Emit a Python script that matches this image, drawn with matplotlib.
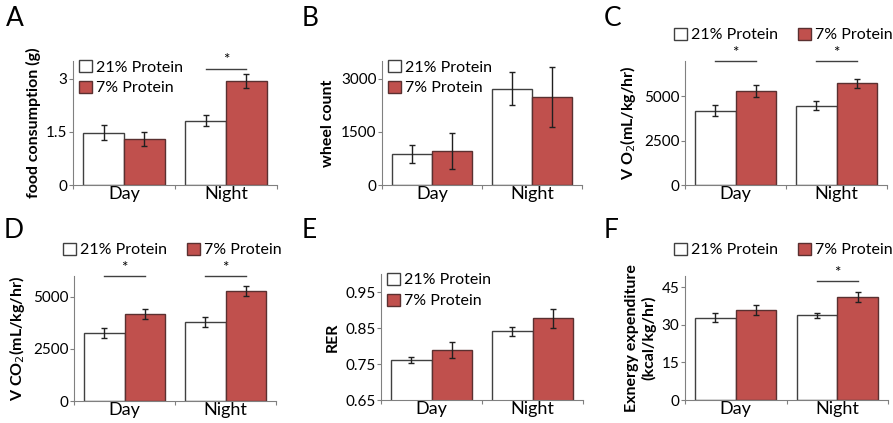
import matplotlib.pyplot as plt
import numpy as np

plt.rcParams['font.family'] = ['Lato', 'DejaVu Sans']

groups = ["Day", "Night"]
series = ["21% Protein", "7% Protein"]

# panel A: food consumption (g)
food_21 = [1.48, 1.82]
food_21_err = [0.20, 0.15]
food_7 = [1.29, 2.94]
food_7_err = [0.20, 0.19]

# panel B: wheel count
wheel_21 = [880, 2720]
wheel_21_err = [250, 470]
wheel_7 = [960, 2490]
wheel_7_err = [515, 845]

# panel C: VO2
vo2_21 = [4200, 4480]
vo2_21_err = [320, 250]
vo2_7 = [5310, 5740]
vo2_7_err = [320, 250]

# panel D: VCO2
vco2_21 = [3270, 3780]
vco2_21_err = [240, 250]
vco2_7 = [4190, 5260]
vco2_7_err = [230, 240]

# panel E: RER
rer_21 = [0.762, 0.841]
rer_21_err = [0.008, 0.0125]
rer_7 = [0.789, 0.877]
rer_7_err = [0.022, 0.027]

# panel F: energy expenditure
ee_21 = [32.9, 33.8]
ee_21_err = [1.85, 1.1]
ee_7 = [35.9, 41.2]
ee_7_err = [1.9, 2.1]

RED = "#C0504D"
SPINE = "#808080"

W, H = 893, 423
fig = plt.figure(figsize=(W / 100, H / 100), dpi=100)


def px_axes(left, right, top, bottom):
    return fig.add_axes([left / W, 1 - bottom / H, (right - left) / W, (bottom - top) / H])


def panel(ax, a, a_err, b, b_err, ylim, yticks, yticklabels, ylabel, sig=(), sig_y=None,
          legend="stack"):
    x = np.arange(len(groups))
    w = 0.4
    ax.bar(x - w / 2, a, w, yerr=a_err, color="white", edgecolor="#404040", linewidth=1.0,
           error_kw=dict(ecolor="#202020", elinewidth=1.0, capsize=2, capthick=1.0), label=series[0])
    ax.bar(x + w / 2, b, w, yerr=b_err, color=RED, edgecolor="#5a3030", linewidth=1.0,
           error_kw=dict(ecolor="#202020", elinewidth=1.0, capsize=2, capthick=1.0), label=series[1])
    ax.set_xlim(-0.5, 1.5)
    ax.set_ylim(*ylim)
    ax.set_yticks(yticks)
    ax.set_yticklabels(yticklabels, fontsize=11)
    ax.set_xticks([-0.5, 0.5, 1.5])
    ax.set_xticklabels([])
    ax.set_xticks(x, minor=True)
    ax.set_xticklabels(groups, minor=True, fontsize=13)
    ax.tick_params(axis="x", which="minor", length=0, pad=1)
    ax.tick_params(axis="x", which="major", length=3, color=SPINE, direction="out")
    ax.tick_params(axis="y", length=3, color=SPINE, pad=1)
    for s in ["top", "right"]:
        ax.spines[s].set_visible(False)
    for s in ["left", "bottom"]:
        ax.spines[s].set_color(SPINE)
    ax.set_ylabel(ylabel, fontsize=11.5, fontweight="bold", labelpad=4)
    for g in sig:
        ax.plot([g - 0.2, g + 0.2], [sig_y, sig_y], color="#404040", lw=1.0, clip_on=False)
        ax.annotate("*", (g, sig_y), xytext=(0, 6), textcoords="offset points",
                    ha="center", va="center", fontsize=11, annotation_clip=False)
    if legend == "stack":
        ax.legend(loc="upper left", bbox_to_anchor=(0.0, 1.06), frameon=False, fontsize=11.5,
                  handlelength=0.78, handleheight=0.78, handletextpad=0.25, labelspacing=0.4,
                  borderaxespad=0)
    else:
        ax.legend(loc="lower left", bbox_to_anchor=(-0.085, 1.1), frameon=False, fontsize=11.5, ncol=2,
                  handlelength=0.78, handleheight=0.78, handletextpad=0.25, columnspacing=1.3,
                  borderaxespad=0)


axA = px_axes(73, 277, 61, 185)
panel(axA, food_21, food_21_err, food_7, food_7_err, (0, 3.5), [0, 1.5, 3], ["0", "1.5", "3"],
      "food consumption (g)", sig=[1], sig_y=3.28)

axB = px_axes(382, 582, 61, 185)
panel(axB, wheel_21, wheel_21_err, wheel_7, wheel_7_err, (0, 3500), [0, 1500, 3000],
      ["0", "1500", "3000"], "wheel count")

axC = px_axes(685, 887, 61, 185)
panel(axC, vo2_21, vo2_21_err, vo2_7, vo2_7_err, (0, 7000), [0, 2500, 5000],
      ["0", "2500", "5000"], "V O$_2$(mL/kg/hr)", sig=[0, 1], sig_y=6990, legend="row")

axD = px_axes(74, 276, 276, 401)
panel(axD, vco2_21, vco2_21_err, vco2_7, vco2_7_err, (0, 6000), [0, 2500, 5000],
      ["0", "2500", "5000"], "V CO$_2$(mL/kg/hr)", sig=[0, 1], sig_y=5990, legend="row")

axE = px_axes(381, 583, 274, 400)
panel(axE, rer_21, rer_21_err, rer_7, rer_7_err, (0.65, 1.0), [0.65, 0.75, 0.85, 0.95],
      ["0.65", "0.75", "0.85", "0.95"], "RER")

axF = px_axes(685, 888, 276, 400)
panel(axF, ee_21, ee_21_err, ee_7, ee_7_err, (0, 49.5), [0, 15, 30, 45],
      ["0", "15", "30", "45"], "Exnergy expenditure\n(kcal/kg/hr)", sig=[1], sig_y=47.4, legend="row")

for lab, (xp, yp) in zip("ABCDEF", [(6, 6), (302, 6), (604, 6), (4, 218), (302, 218), (604, 218)]):
    fig.text(xp / W, 1 - yp / H, lab, fontsize=19, va="top", ha="left")

fig.savefig("out.png", dpi=100)
